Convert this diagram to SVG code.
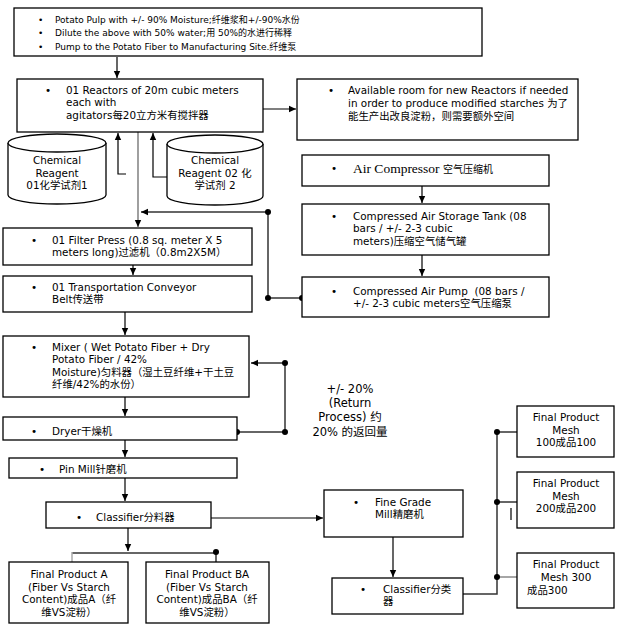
<svg xmlns="http://www.w3.org/2000/svg" width="621" height="625" viewBox="0 0 621 625">
<style>
.box{fill:#fff;stroke:#000;stroke-width:1.3}
.t{font-family:"DejaVu Sans","Noto Sans CJK SC",sans-serif;font-size:10.4px;fill:#000}
.s{font-size:9px}
.r{font-size:11.5px}
.c{text-anchor:middle}
.ln{stroke:#000;stroke-width:1.2;fill:none}
.gl{stroke:#666;stroke-width:2;fill:none}
.dot{fill:#000}
</style>
<defs>
<marker id="a" markerUnits="userSpaceOnUse" markerWidth="8" markerHeight="8" viewBox="0 0 8 8" refX="7" refY="4" orient="auto">
<path d="M0,0.8 L7,4 L0,7.2 Z" fill="#000"/>
</marker>
</defs>
<rect width="621" height="625" fill="#fff"/>

<g id="connectors">
<line class="ln" x1="117" y1="57" x2="117" y2="78" marker-end="url(#a)"/>
<line class="ln" x1="263" y1="109" x2="296" y2="109" marker-end="url(#a)"/>
<polyline class="ln" points="126,174 118,174 118,133" marker-end="url(#a)"/>
<polyline class="ln" points="178,177 153,177 153,133" marker-end="url(#a)"/>
<line x1="138" y1="132" x2="138" y2="227" stroke="#777" stroke-width="1.4" marker-end="url(#a)"/>
<line class="ln" x1="422" y1="186" x2="422" y2="203" marker-end="url(#a)"/>
<line class="ln" x1="422" y1="255" x2="422" y2="276" marker-end="url(#a)"/>
<path class="gl" d="M302,298 H268 V212 H141" marker-end="url(#a)"/>
<circle class="dot" cx="302" cy="298" r="3"/>
<circle class="dot" cx="268" cy="298" r="3"/>
<circle class="dot" cx="268" cy="212" r="3"/>
<line class="ln" x1="133" y1="265" x2="133" y2="275" marker-end="url(#a)"/>
<line class="ln" x1="125" y1="312" x2="125" y2="335" marker-end="url(#a)"/>
<line class="ln" x1="125" y1="397" x2="125" y2="416" marker-end="url(#a)"/>
<path class="gl" d="M237,432 H285 V363 H251" marker-end="url(#a)"/>
<circle class="dot" cx="237" cy="432" r="3"/>
<circle class="dot" cx="285" cy="432" r="3"/>
<circle class="dot" cx="285" cy="363" r="3"/>
<line class="ln" x1="125" y1="440" x2="125" y2="457" marker-end="url(#a)"/>
<line class="ln" x1="125" y1="478" x2="125" y2="501" marker-end="url(#a)"/>
<line class="ln" x1="211" y1="518" x2="323" y2="518" marker-end="url(#a)"/>
<line class="ln" x1="128" y1="528" x2="128" y2="551" marker-end="url(#a)"/>
<line class="gl" x1="72" y1="553" x2="216" y2="553"/>
<line x1="72" y1="552" x2="72" y2="562" stroke="#aaa" stroke-width="1.5"/>
<line class="ln" x1="216" y1="552" x2="216" y2="562"/>
<circle class="dot" cx="216" cy="552" r="3"/>
<line class="ln" x1="393" y1="537" x2="393" y2="577" marker-end="url(#a)"/>
<path d="M463,594 H497 V432" fill="none" stroke="#333" stroke-width="1.5"/>
<line class="ln" x1="497" y1="432" x2="517" y2="432"/>
<line class="ln" x1="497" y1="502" x2="517" y2="502"/>
<line x1="497" y1="577" x2="517" y2="577" stroke="#888" stroke-width="1.5"/>
<circle class="dot" cx="497" cy="432" r="3"/>
<circle class="dot" cx="497" cy="502" r="3"/>
<circle class="dot" cx="497" cy="577" r="3"/>
<line class="ln" x1="511" y1="508" x2="511" y2="520"/>
</g>

<g id="source">
<rect class="box" x="14" y="8" width="468" height="48"/>
<text class="t s" x="38" y="23">•</text>
<text class="t s" x="55" y="23">Potato Pulp with +/- 90% Moisture;纤维浆和+/-90%水份</text>
<text class="t s" x="38" y="36">•</text>
<text class="t s" x="55" y="36">Dilute the above with 50% water;用 50%的水进行稀释</text>
<text class="t s" x="38" y="50">•</text>
<text class="t s" x="55" y="50">Pump to the Potato Fiber to Manufacturing Site.纤维泵</text>
</g>

<g id="reactor">
<rect class="box" x="17" y="79" width="246" height="53"/>
<text class="t" x="45" y="94">•</text>
<text class="t" x="66" y="94">01 Reactors of 20m cubic meters</text>
<text class="t" x="66" y="106">each with</text>
<text class="t" x="66" y="119">agitators每20立方米有搅拌器</text>
</g>

<g id="available">
<rect class="box" x="297" y="79" width="281" height="61"/>
<text class="t" x="328" y="94">•</text>
<text class="t" x="348" y="94">Available room for new Reactors if needed</text>
<text class="t" x="348" y="107">in order to produce modified starches 为了</text>
<text class="t" x="348" y="120">能生产出改良淀粉，则需要额外空间</text>
</g>

<g id="reagent1">
<path class="box" d="M8,143 V195 A49,9 0 0 0 106,195 V143"/>
<ellipse class="box" cx="57" cy="143" rx="49" ry="9"/>
<text class="t c" x="57" y="164">Chemical</text>
<text class="t c" x="57" y="177">Reagent</text>
<text class="t c" x="57" y="189">01化学试剂1</text>
</g>

<g id="reagent2">
<path class="box" d="M167,144 V196 A48,9 0 0 0 263,196 V144"/>
<ellipse class="box" cx="215" cy="144" rx="48" ry="9"/>
<text class="t c" x="215" y="164">Chemical</text>
<text class="t c" x="215" y="177">Reagent 02 化</text>
<text class="t c" x="215" y="189">学试剂 2</text>
</g>

<g id="aircompressor">
<rect class="box" x="302" y="155" width="247" height="31"/>
<text class="t" x="331" y="172">•</text>
<text x="353" y="172.5" font-family="'Liberation Serif','Noto Sans CJK SC',serif" font-size="13.5px">Air Compressor <tspan font-family="'Noto Sans CJK SC',sans-serif" font-size="10px">空气压缩机</tspan></text>
</g>

<g id="storage">
<rect class="box" x="302" y="204" width="247" height="51"/>
<text class="t" x="331" y="220">•</text>
<text class="t" x="353" y="220">Compressed Air Storage Tank (08</text>
<text class="t" x="353" y="232">bars / +/- 2-3 cubic</text>
<text class="t" x="353" y="245">meters)压缩空气储气罐</text>
</g>

<g id="pump">
<rect class="box" x="302" y="277" width="247" height="40"/>
<text class="t" x="331" y="295">•</text>
<text class="t" x="353" y="295" xml:space="preserve">Compressed Air Pump  (08 bars /</text>
<text class="t" x="353" y="307">+/- 2-3 cubic meters空气压缩泵</text>
</g>

<g id="filter">
<rect class="box" x="3" y="228" width="249" height="37"/>
<text class="t" x="31" y="244">•</text>
<text class="t" x="52" y="244">01 Filter Press (0.8 sq. meter X 5</text>
<text class="t" x="52" y="256">meters long)过滤机（0.8m2X5M）</text>
</g>

<g id="conveyor">
<rect class="box" x="3" y="276" width="249" height="36"/>
<text class="t" x="31" y="291">•</text>
<text class="t" x="52" y="291">01 Transportation Conveyor</text>
<text class="t" x="52" y="303">Belt传送带</text>
</g>

<g id="mixer">
<rect class="box" x="3" y="336" width="246" height="61"/>
<text class="t" x="31" y="351">•</text>
<text class="t" x="52" y="351">Mixer ( Wet Potato Fiber + Dry</text>
<text class="t" x="52" y="363">Potato Fiber / 42%</text>
<text class="t" x="52" y="376">Moisture)匀料器（湿土豆纤维+干土豆</text>
<text class="t" x="52" y="388">纤维/42%的水份）</text>
</g>

<g id="dryer">
<rect class="box" x="3" y="417" width="234" height="23"/>
<text class="t" x="31" y="435">•</text>
<text class="t" x="52" y="435">Dryer干燥机</text>
</g>

<g id="return-label">
<text class="t r c" x="350" y="393">+/- 20%</text>
<text class="t r c" x="350" y="407">(Return</text>
<text class="t r c" x="350" y="421">Process) 约</text>
<text class="t r c" x="350" y="436">20% 的返回量</text>
</g>

<g id="pinmill">
<rect class="box" x="9" y="458" width="228" height="20"/>
<text class="t" x="39" y="473">•</text>
<text class="t" x="59" y="473">Pin Mill针磨机</text>
</g>

<g id="classifier">
<rect class="box" x="46" y="502" width="165" height="26"/>
<text class="t" x="76" y="521">•</text>
<text class="t" x="96" y="521">Classifier分料器</text>
</g>

<g id="productA">
<rect class="box" x="9" y="562" width="119" height="61"/>
<text class="t c" x="69" y="578">Final Product A</text>
<text class="t c" x="69" y="591">(Fiber Vs Starch</text>
<text class="t c" x="69" y="603">Content)成品A（纤</text>
<text class="t c" x="69" y="616">维VS淀粉）</text>
</g>

<g id="productBA">
<rect class="box" x="146" y="562" width="123" height="61"/>
<text class="t c" x="207" y="578">Final Product BA</text>
<text class="t c" x="207" y="591">(Fiber Vs Starch</text>
<text class="t c" x="207" y="603">Content)成品BA（纤</text>
<text class="t c" x="207" y="616">维VS淀粉）</text>
</g>

<g id="finegrade">
<rect class="box" x="324" y="490" width="139" height="47"/>
<text class="t" x="353" y="506">•</text>
<text class="t" x="375" y="506">Fine Grade</text>
<text class="t" x="375" y="518">Mill精磨机</text>
</g>

<g id="classifier2">
<rect class="box" x="332" y="578" width="131" height="36"/>
<text class="t" x="360" y="593">•</text>
<text class="t" x="383" y="593">Classifier分类</text>
<text class="t" x="383" y="605">器</text>
</g>

<g id="mesh100">
<rect class="box" x="517" y="406" width="97" height="51"/>
<text class="t c" x="566" y="421">Final Product</text>
<text class="t c" x="566" y="434">Mesh</text>
<text class="t c" x="566" y="446">100成品100</text>
</g>

<g id="mesh200">
<rect class="box" x="517" y="472" width="97" height="56"/>
<text class="t c" x="566" y="487">Final Product</text>
<text class="t c" x="566" y="500">Mesh</text>
<text class="t c" x="566" y="512">200成品200</text>
</g>

<g id="mesh300">
<rect class="box" x="517" y="553" width="97" height="55"/>
<text class="t c" x="566" y="568">Final Product</text>
<text class="t c" x="566" y="581">Mesh 300</text>
<text class="t" x="527" y="594">成品300</text>
</g>
</svg>
